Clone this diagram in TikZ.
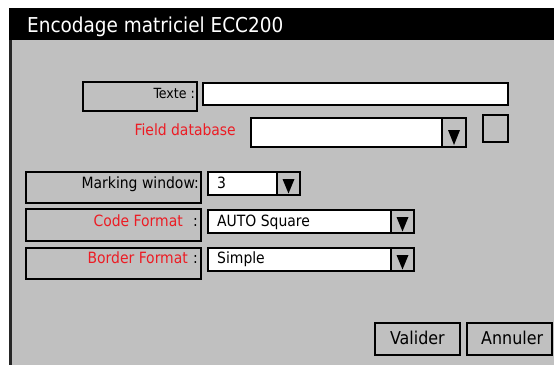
\documentclass[tikz,border=0pt]{standalone}
\usepackage{fontspec}
\setmainfont{DejaVu Sans Condensed}
\definecolor{wingray}{RGB}{192,192,192}
\definecolor{labelred}{RGB}{236,28,36}

\tikzset{
  panel/.style={rectangle, draw=black, line width=2pt, fill=wingray,
    inner sep=0pt, anchor=north west},
  entry/.style={rectangle, draw=black, line width=2pt, fill=white,
    inner sep=0pt, anchor=north west},
  lbl/.style={inner sep=0pt, anchor=base east, font=\fontsize{15.5}{18}\selectfont},
  val/.style={inner sep=0pt, anchor=base west, font=\fontsize{15.5}{18}\selectfont},
  btntext/.style={inner sep=0pt, anchor=base west, font=\fontsize{17.7}{21}\selectfont},
  arrowtri/.style={fill=black},
}

\begin{document}
\begin{tikzpicture}[x=1pt,y=-1pt]
\useasboundingbox (0,0) rectangle (554,365);
\fill[white] (0,0) rectangle (554,365);

% window body, title bar and left edge
\fill[wingray] (9,40) rectangle (554,365);
\fill[black] (9,8) rectangle (554,40);
\fill[black!85] (9,40) rectangle (12,365);
\node[inner sep=0pt, anchor=base west, text=white,
      font=\fontsize{20.5}{24}\selectfont] (title) at (27,32) {Encodage matriciel ECC200};

% text field
\node[panel, minimum width=114pt, minimum height=29pt] (texteBox) at (82,81) {};
\node[lbl, font=\fontsize{14}{17}\selectfont] (texteLbl) at (195,98) {Texte :};
\node[entry, minimum width=305pt, minimum height=22pt] (texteField) at (202,82) {};

% field database
\node[lbl, text=labelred] (dbLbl) at (236,135) {Field database};
\node[entry, minimum width=191pt, minimum height=29pt] (dbField) at (250,117) {};
\node[panel, minimum width=24pt, minimum height=29pt] (dbBtn) at (441,117) {};
\fill[arrowtri] ([shift={(-6,-18)}]dbBtn.south) -- ([shift={(6,-18)}]dbBtn.south)
  -- ([shift={(0,-3)}]dbBtn.south) -- cycle;
\node[panel, minimum width=25pt, minimum height=27pt] (dbCheck) at (482,114) {};

% marking window
\node[panel, minimum width=175pt, minimum height=31pt] (markBox) at (25,171) {};
\node[lbl] (markLbl) at (199,188) {Marking window:};
\node[entry, minimum width=69pt, minimum height=23pt] (markField) at (207,171) {};
\node[val] (markVal) at (217,188) {3};
\node[panel, minimum width=23pt, minimum height=23pt] (markBtn) at (276,171) {};
\fill[arrowtri] ([shift={(-6,-17)}]markBtn.south) -- ([shift={(6,-17)}]markBtn.south)
  -- ([shift={(0,-2.5)}]markBtn.south) -- cycle;

% code format
\node[panel, minimum width=175pt, minimum height=32pt] (codeBox) at (25,208) {};
\node[lbl, text=labelred] (codeLbl) at (183,226) {Code Format};
\node[lbl] (codeColon) at (198,226) {:};
\node[entry, minimum width=183pt, minimum height=23pt] (codeField) at (207,209) {};
\node[val] (codeVal) at (217,226) {AUTO Square};
\node[panel, minimum width=23pt, minimum height=23pt] (codeBtn) at (390,209) {};
\fill[arrowtri] ([shift={(-6,-17)}]codeBtn.south) -- ([shift={(6,-17)}]codeBtn.south)
  -- ([shift={(0,-2.5)}]codeBtn.south) -- cycle;

% border format
\node[panel, minimum width=175pt, minimum height=31pt] (borderBox) at (25,247) {};
\node[lbl, text=labelred] (borderLbl) at (188,263.5) {Border Format};
\node[lbl] (borderColon) at (198,263.5) {:};
\node[entry, minimum width=183pt, minimum height=23pt] (borderField) at (207,247) {};
\node[val] (borderVal) at (217,263.5) {Simple};
\node[panel, minimum width=23pt, minimum height=23pt] (borderBtn) at (390,247) {};
\fill[arrowtri] ([shift={(-6,-17)}]borderBtn.south) -- ([shift={(6,-17)}]borderBtn.south)
  -- ([shift={(0,-2.5)}]borderBtn.south) -- cycle;

% buttons
\node[panel, minimum width=85pt, minimum height=32pt] (okBtn) at (374,322) {};
\node[btntext] (okTxt) at (390,344) {Valider};
\node[panel, minimum width=85pt, minimum height=32pt] (cancelBtn) at (466,322) {};
\node[btntext] (cancelTxt) at (481,344) {Annuler};
\end{tikzpicture}
\end{document}
